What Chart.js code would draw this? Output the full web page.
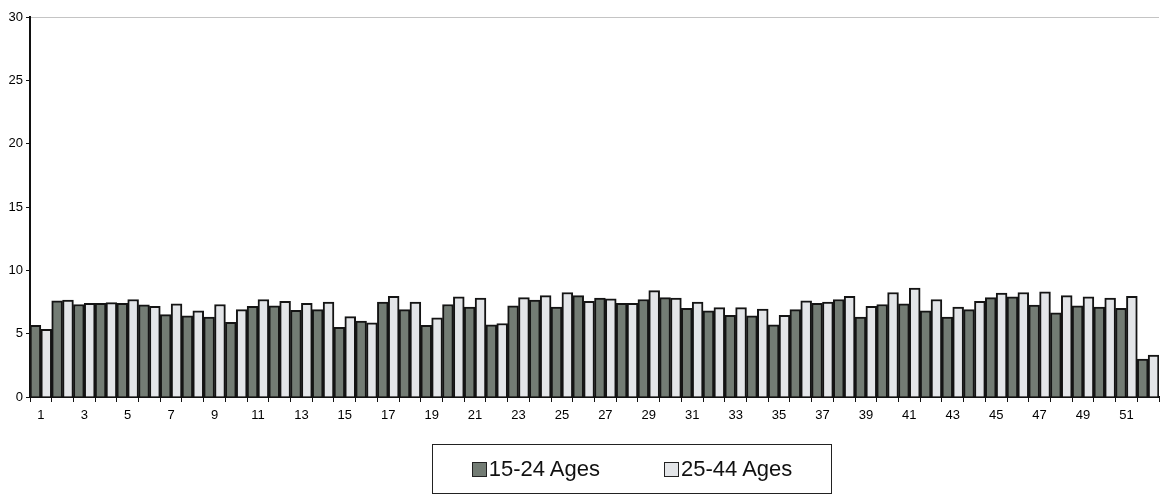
<!DOCTYPE html>
<html>
<head>
<meta charset="utf-8">
<script src="https://cdn.jsdelivr.net/npm/chart.js@4.4.1/dist/chart.umd.min.js"></script>
<style>
  body { margin: 0; background: #fff; }
  #wrap { position: relative; width: 1160px; height: 498px; }
  #legend {
    position: absolute; left: 432px; top: 444px; width: 398px; height: 48px;
    border: 1.5px solid #222; display: flex; align-items: center; justify-content: center;
    font-family: 'Liberation Sans', Arial, sans-serif; font-size: 22px; color: #111;
  }
  #legend .item { display: flex; align-items: center; margin: 0 32px; }
  #legend .sw { width: 13px; height: 13px; border: 1.5px solid #222; margin-right: 2px; }
</style>
</head>
<body>
<div id="wrap">
  <canvas id="chart" width="1160" height="498"></canvas>
  <div id="legend"></div>
</div>
<script>
// week numbers along the x axis
var weeks = ["1","2","3","4","5","6","7","8","9","10","11","12","13","14","15","16","17","18","19","20",
  "21","22","23","24","25","26","27","28","29","30","31","32","33","34","35","36","37","38","39","40",
  "41","42","43","44","45","46","47","48","49","50","51","52"];

// 15-24 Ages
var ages1524 = [5.65, 7.6, 7.3, 7.4, 7.4, 7.28, 6.5, 6.4, 6.3, 5.9,
  7.15, 7.2, 6.85, 6.9, 5.5, 6.0, 7.5, 6.9, 5.65, 7.3,
  7.1, 5.7, 7.2, 7.65, 7.1, 8.0, 7.8, 7.4, 7.7, 7.85,
  7.0, 6.8, 6.45, 6.4, 5.7, 6.9, 7.4, 7.7, 6.3, 7.3,
  7.35, 6.8, 6.3, 6.9, 7.85, 7.9, 7.25, 6.65, 7.2, 7.1,
  7.0, 3.0];

// 25-44 Ages
var ages2544 = [5.35, 7.65, 7.4, 7.45, 7.7, 7.15, 7.35, 6.8, 7.3, 6.9,
  7.7, 7.55, 7.4, 7.5, 6.35, 5.85, 7.95, 7.5, 6.25, 7.9,
  7.8, 5.8, 7.85, 8.0, 8.25, 7.55, 7.75, 7.4, 8.4, 7.8,
  7.5, 7.05, 7.05, 6.95, 6.45, 7.6, 7.5, 7.95, 7.15, 8.25,
  8.6, 7.7, 7.1, 7.55, 8.2, 8.25, 8.3, 8.0, 7.9, 7.8,
  7.95, 3.3];

var yTicks = [0, 5, 10, 15, 20, 25, 30];

var fontFam = "'Liberation Sans', Arial, sans-serif";

var chart = new Chart(document.getElementById("chart"), {
  type: "bar",
  data: {
    labels: weeks,
    datasets: [
      { label: "15-24 Ages", data: ages1524, backgroundColor: "#737c74", borderColor: "#141414", borderWidth: 2 },
      { label: "25-44 Ages", data: ages2544, backgroundColor: "#e3e5e8", borderColor: "#141414", borderWidth: 2 }
    ]
  },
  options: {
    responsive: false,
    animation: false,
    devicePixelRatio: 1,
    layout: { padding: { top: 17, right: 1, bottom: 73, left: 0 } },
    datasets: { bar: { categoryPercentage: 1.0, barPercentage: 1.0 } },
    plugins: { legend: { display: false }, tooltip: { enabled: false } },
    scales: {
      x: {
        grid: { offset: true, drawOnChartArea: false, tickColor: "#111", tickLength: 5 },
        border: { color: "#111", width: 2 },
        ticks: {
          autoSkip: false, maxRotation: 0, padding: 6, color: "#000",
          font: { family: fontFam, size: 13 },
          callback: function (v, i) { return i % 2 === 0 ? weeks[i] : ""; }
        },
        afterFit: function (s) { s.height = 28; }
      },
      y: {
        min: 0, max: 30,
        afterBuildTicks: function (s) { s.ticks = yTicks.map(function (v) { return { value: v }; }); },
        grid: {
          color: function (c) { return c.tick && c.tick.value === 30 ? "#c4c4c4" : "rgba(0,0,0,0)"; },
          tickColor: "#111", tickLength: 4
        },
        border: { color: "#111", width: 2 },
        ticks: { padding: 3, color: "#000", font: { family: fontFam, size: 13 } },
        afterFit: function (s) { s.width = 30; }
      }
    }
  }
});

// legend box below the chart
var lg = document.getElementById("legend");
chart.data.datasets.forEach(function (ds) {
  var item = '<div class="item"><div class="sw" style="background:' + ds.backgroundColor + '"></div>' + ds.label + '</div>';
  lg.innerHTML += item;
});
</script>
</body>
</html>
